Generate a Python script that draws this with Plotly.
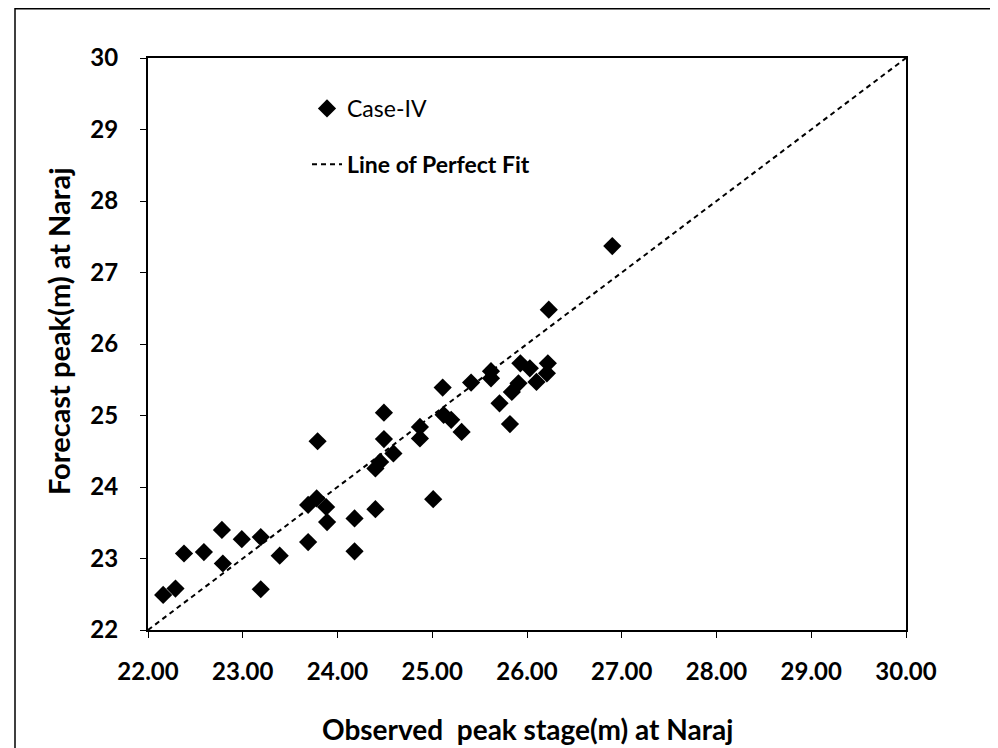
import plotly.graph_objects as go

# Observed peak stage (m) at Naraj
observed = [22.16, 22.29, 22.38, 22.59, 22.78, 22.79, 22.99, 23.19, 23.19, 23.39,
            23.69, 23.79, 23.69, 23.78, 23.88, 23.89, 24.18, 24.18, 24.40, 24.49,
            24.49, 24.40, 24.45, 24.59, 24.87, 24.87, 25.11, 25.41, 25.62, 25.62,
            25.93, 26.03, 26.22, 26.21, 26.10, 25.91, 25.84, 25.71, 25.82, 25.12,
            25.20, 25.31, 25.01, 26.23, 26.90]
# Forecast peak (m) at Naraj
forecast = [22.49, 22.58, 23.07, 23.09, 23.40, 22.93, 23.27, 23.30, 22.57, 23.04,
            23.23, 24.64, 23.75, 23.84, 23.72, 23.51, 23.56, 23.10, 23.69, 25.04,
            24.67, 24.26, 24.35, 24.47, 24.84, 24.68, 25.39, 25.46, 25.62, 25.52,
            25.73, 25.66, 25.73, 25.59, 25.47, 25.45, 25.33, 25.17, 24.88, 25.01,
            24.94, 24.77, 23.83, 26.48, 27.37]

fit_x = [22, 30]
fit_y = [22, 30]

x_ticks = [22, 23, 24, 25, 26, 27, 28, 29, 30]
y_ticks = [22, 23, 24, 25, 26, 27, 28, 29, 30]

FONT = "Lato"

# figure geometry (page body adds 8px offset)
W, H = 990, 740
L, T = 140, 50
PW, PH = 758, 572
R = W - L - PW
B = H - T - PH


def px(xf):
    return (xf - L) / PW


def py(yf):
    return (T + PH - yf) / PH


fig = go.Figure()
fig.add_trace(go.Scatter(
    x=observed, y=forecast, mode="markers", name="Case-IV",
    legendgroup="a",
    marker=dict(symbol="diamond", size=14, color="black", line=dict(width=0)),
))
fig.add_trace(go.Scatter(
    x=fit_x, y=fit_y, mode="lines", name="<b>Line of Perfect Fit</b>",
    legendgroup="b",
    line=dict(color="black", width=2, dash="5px,4px"),
))

fig.update_layout(
    width=W, height=H,
    margin=dict(l=L, r=R, t=T, b=B),
    paper_bgcolor="white", plot_bgcolor="white",
    font=dict(family=FONT, color="black"),
    showlegend=True,
    legend=dict(
        x=px(299), y=py(79), xanchor="left", yanchor="top",
        bgcolor="rgba(0,0,0,0)", font=dict(size=23, family=FONT),
        tracegroupgap=23, traceorder="grouped",
    ),
    xaxis=dict(
        range=[22, 30], tickvals=x_ticks, tickformat=".2f",
        showgrid=False, zeroline=False,
        showline=True, linecolor="black", linewidth=2, mirror=True,
        ticks="outside", ticklen=6, tickcolor="black", tickwidth=1,
        ticklabelstandoff=13,
        tickfont=dict(size=24, family=FONT, weight="bold"),
    ),
    yaxis=dict(
        range=[22, 30], tickvals=y_ticks,
        showgrid=False, zeroline=False,
        showline=True, linecolor="black", linewidth=2, mirror=True,
        ticks="outside", ticklen=6, tickcolor="black", tickwidth=1,
        ticklabelstandoff=17,
        tickfont=dict(size=24, family=FONT, weight="bold"),
    ),
    annotations=[
        dict(text="<b>Observed\u00a0 peak stage(m) at Naraj</b>", xref="paper", yref="paper",
             x=0.5, y=py(721), xanchor="center", yanchor="middle",
             showarrow=False, font=dict(size=28, family=FONT)),
        dict(text="<b>Forecast peak(m) at Naraj</b>", xref="paper", yref="paper",
             x=px(50), y=py(323), xanchor="center", yanchor="middle",
             textangle=-90, showarrow=False, font=dict(size=29, family=FONT)),
    ],
    shapes=[
        dict(type="rect", xref="paper", yref="paper",
             x0=px(7), x1=px(987),
             y0=py(780), y1=py(0.75),
             line=dict(color="black", width=1.5), fillcolor="rgba(0,0,0,0)", layer="below"),
    ],
)

fig.write_html("out.html")
